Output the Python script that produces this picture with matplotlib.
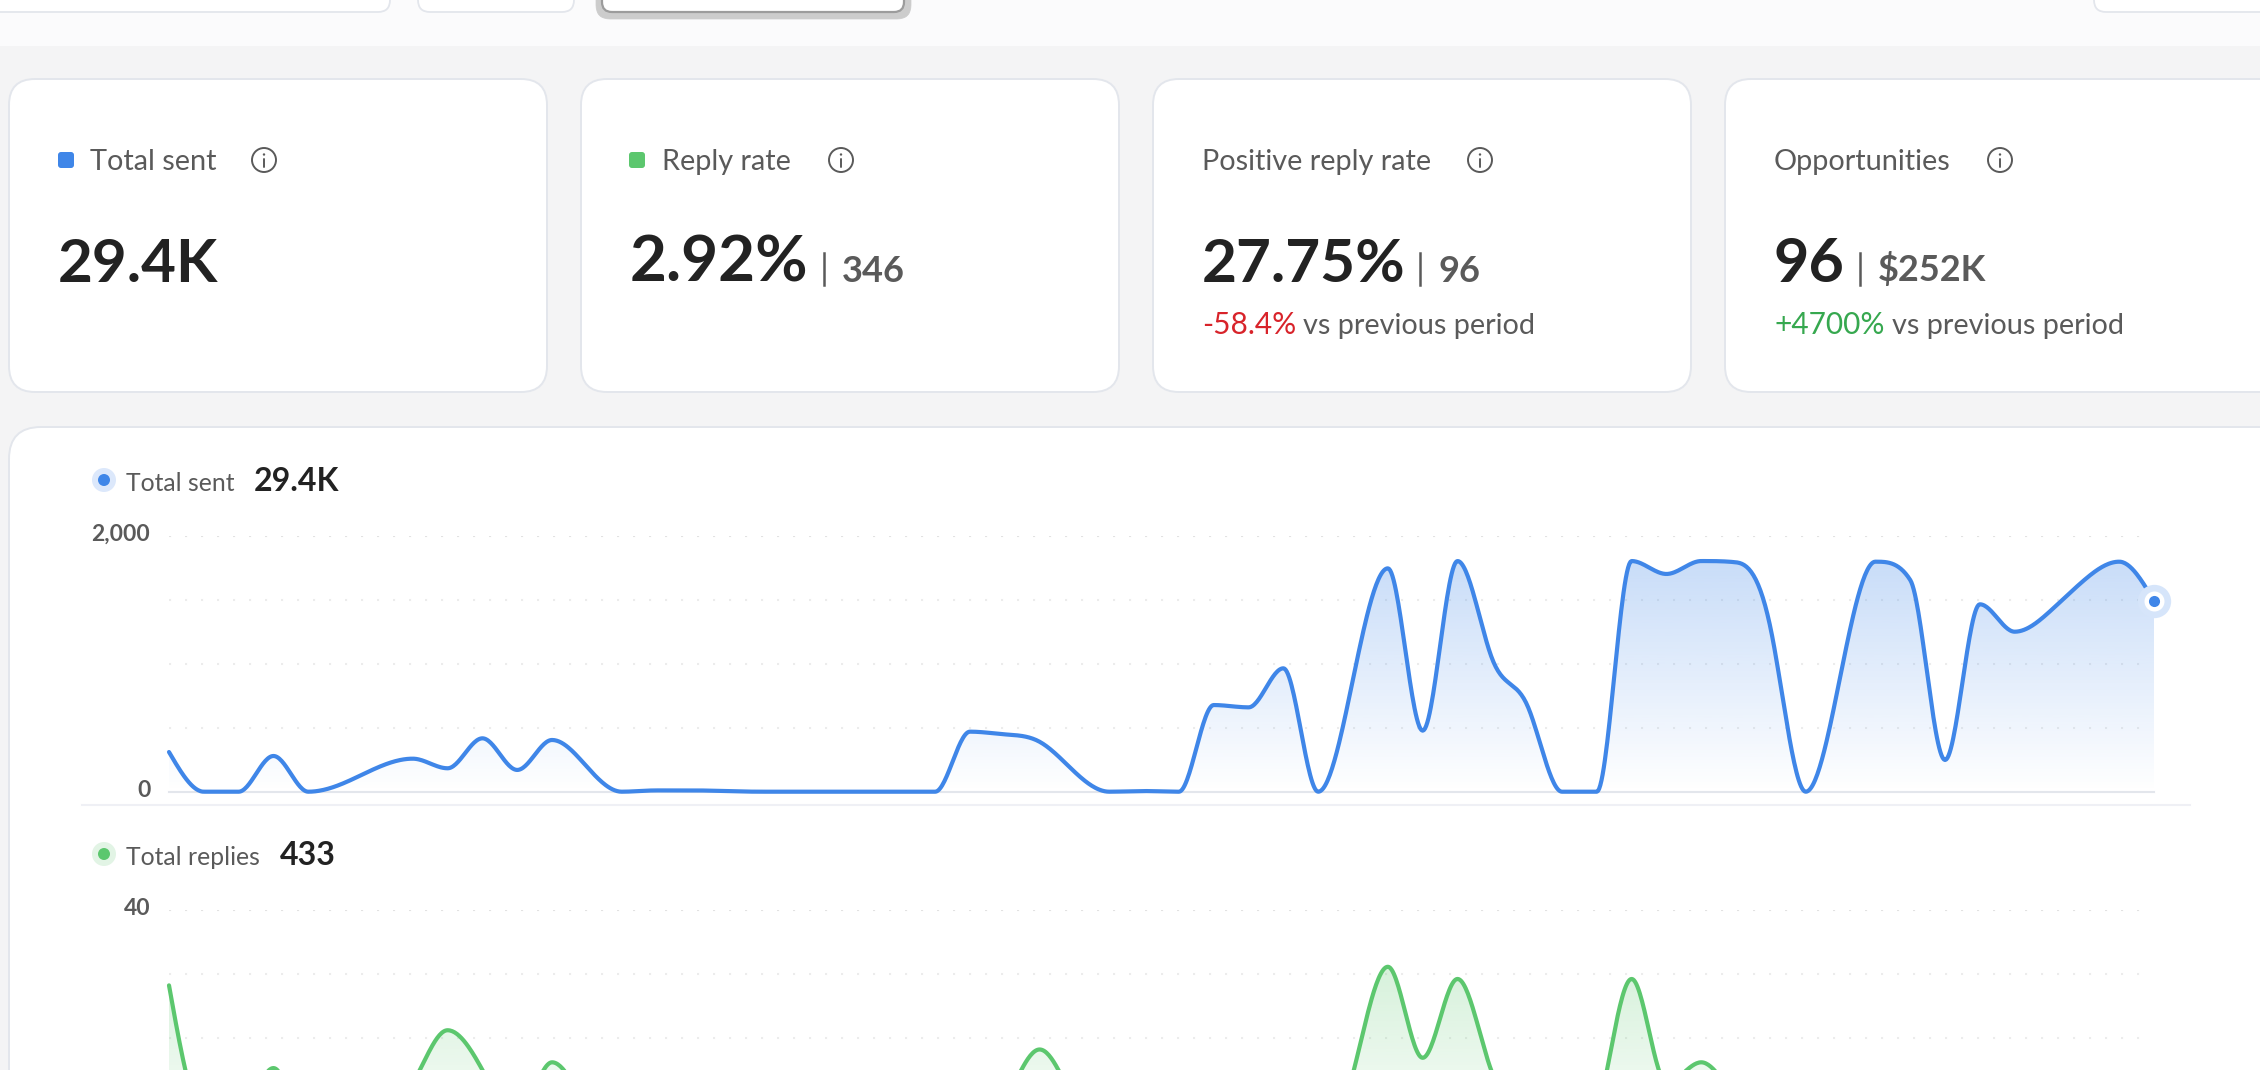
import numpy as np
import matplotlib
matplotlib.use("Agg")
import matplotlib.pyplot as plt
from matplotlib.patches import FancyBboxPatch, Circle, Rectangle
from matplotlib.transforms import ScaledTranslation

plt.rcParams['font.family'] = ['Lato', 'DejaVu Sans']

W, H = 2260, 1070

# daily values
total_sent = [310, 0, 0, 279, 0, 65, 190, 258, 183, 417, 170, 404, 195, 0, 10, 10, 5, 0, 0, 0,
              0, 0, 0, 469, 448, 390, 156, 0, 5, 0, 677, 659, 964, 0, 880, 1745, 477, 1802, 1035, 677,
              0, 0, 1802, 1701, 1802, 1792, 1263, 0, 912, 1797, 1654, 248, 1464, 1250, 1406, 1654, 1797, 1490]
total_replies = [28.2, 8, 8, 15.3, 5, 4, 8, 13, 21.2, 15, 8, 16.2, 9, 3, 2, 2, 1, 0, 0, 0,
                 0, 1, 3, 5, 10, 18.2, 10, 3, 1, 2, 6, 8, 11, 3, 14.5, 31.1, 16.9, 29.2, 14.5, 9,
                 2, 8, 29.2, 13, 16.2, 11, 8, 2, 6, 10, 9, 4, 8, 7, 6, 9, 10, 8]

sent_ticks = [0, 500, 1000, 1500, 2000]
sent_tick_labels = ['0', '', '', '', '2,000']
reply_ticks = [20, 30, 40]
reply_tick_labels = ['', '', '40']

BLUE = '#3f86e8'
GREEN = '#5cc76e'
DARK = '#222222'
GREY = '#5a5a5a'
BORDER = '#e3e6ec'
RED = '#d8232a'
UP = '#36a84f'


# smooth curve through the daily points, flat at every peak and valley,
# a clamped spline on each rising or falling run
def tangents(y):
    s = np.diff(y)
    n = len(y)
    m = np.zeros(n)
    breaks = [0] + [i for i in range(1, n - 1) if s[i - 1] * s[i] <= 0] + [n - 1]
    for a, b in zip(breaks[:-1], breaks[1:]):
        k = b - a - 1
        if k < 1:
            continue
        A = np.zeros((k, k))
        r = np.zeros(k)
        for j in range(k):
            A[j, j] = 4
            if j > 0:
                A[j, j - 1] = 1
            if j < k - 1:
                A[j, j + 1] = 1
            r[j] = 3 * (s[a + j] + s[a + j + 1])
        m[a + 1:b] = np.linalg.solve(A, r)
    for i in range(1, n - 1):
        lim = 3 * min(abs(s[i - 1]), abs(s[i]))
        m[i] = np.clip(m[i], -lim, lim)
    m[0] = (3 * s[0] - m[1]) / 2
    m[-1] = (3 * s[-1] - m[-2]) / 2
    return m


def smooth_curve(values, n=30):
    y = np.asarray(values, dtype=float)
    m = tangents(y)
    xs, ys = [], []
    for i in range(len(y) - 1):
        t = np.linspace(0, 1, n, endpoint=False)
        h00 = 2 * t**3 - 3 * t**2 + 1
        h10 = t**3 - 2 * t**2 + t
        h01 = -2 * t**3 + 3 * t**2
        h11 = t**3 - t**2
        xs.append(i + t)
        ys.append(h00 * y[i] + h10 * m[i] + h01 * y[i + 1] + h11 * m[i + 1])
    xs.append([len(y) - 1])
    ys.append([y[-1]])
    return np.concatenate(xs), np.concatenate(ys)


def px_axes(fig, x0, x1, y_top, y_bottom):
    return fig.add_axes([x0 / W, 1 - y_bottom / H, (x1 - x0) / W, (y_bottom - y_top) / H])


def card(ax, x0, y0, x1, y1, r=26, fc='white', ec=BORDER, lw=1.4, z=1):
    ax.add_patch(FancyBboxPatch((x0 + r, y0 + r), x1 - x0 - 2 * r, y1 - y0 - 2 * r,
                                boxstyle=f"round,pad={r},rounding_size={r}",
                                fc=fc, ec=ec, lw=lw, zorder=z, clip_on=True))


def info_icon(ax, cx, cy):
    ax.add_patch(Circle((cx, cy), 12, fc='none', ec=GREY, lw=1.4, zorder=3))
    ax.plot([cx, cx], [cy - 1, cy + 6.5], color=GREY, lw=1.4, zorder=3, solid_capstyle='round')
    ax.add_patch(Circle((cx, cy - 5.5), 1.2, fc=GREY, ec='none', zorder=3))


def draw_series(ax, values, color, gmax, galpha, lw):
    x, y = smooth_curve(values)
    poly = ax.fill_between(x, y, 0, color='none', lw=0)
    rgba = np.zeros((256, 1, 4))
    rgba[..., :3] = matplotlib.colors.to_rgb(color)
    rgba[:, 0, 3] = np.linspace(galpha, 0, 256)
    img = ax.imshow(rgba, extent=[0, len(values) - 1, 0, gmax], origin='upper', aspect='auto', zorder=1)
    img.set_clip_path(poly.get_paths()[0], transform=ax.transData)
    ax.plot(x, y, color=color, lw=lw, zorder=3, clip_on=False, solid_capstyle='round')
    return x, y


def style_chart(ax, ticks, labels, zero_line):
    ax.set_xlim(0, 57)
    ax.set_yticks(ticks, labels, fontsize=16.5, color=GREY, fontweight='bold')
    ax.tick_params(axis='y', length=0, pad=13.5)
    ax.set_xticks([])
    for lbl in ax.get_yticklabels():
        lbl.set_transform(lbl.get_transform() + ScaledTranslation(0, 3 / 100, fig.dpi_scale_trans))
    for sp in ax.spines.values():
        sp.set_visible(False)
    ax.patch.set_alpha(0)
    for t in ticks:
        if t == 0:
            continue
        col = '#e2e2e2' if t == ticks[-1] else '#ececec'
        ax.hlines(t, 0, 56.6, color=col, lw=1.5, linestyles=[(0, (1, 6.68))], zorder=0)
    if zero_line:
        ax.axhline(0, color=BORDER, lw=1.5, zorder=2, clip_on=False)


fig = plt.figure(figsize=(W / 100, H / 100), dpi=100, facecolor='#f4f4f5')

# page chrome in pixel coordinates
bg = fig.add_axes([0, 0, 1, 1])
bg.set_xlim(0, W)
bg.set_ylim(H, 0)
bg.axis('off')

bg.add_patch(Rectangle((0, 0), W, 46, fc='#fbfbfc', ec='none', zorder=0))
card(bg, -20, -40, 390, 12, r=12, lw=1.3)
card(bg, 418, -40, 574, 12, r=12, lw=1.3)
card(bg, 596, -40, 911, 19, r=14, fc='#cccccc', ec='#cccccc', lw=0.5)
card(bg, 602, -40, 904, 12, r=10, ec='#9c9c9c', lw=1.6, z=2)
card(bg, 2094, -40, 2300, 12, r=12, lw=1.3)

# four stat cards
card(bg, 9, 79, 547, 392)
card(bg, 581, 79, 1119, 392)
card(bg, 1153, 79, 1691, 392)
card(bg, 1725, 79, 2300, 392)

for sx, col in [(58, BLUE), (629, GREEN)]:
    bg.add_patch(FancyBboxPatch((sx + 3, 155), 10, 10, boxstyle="round,pad=3,rounding_size=3",
                                fc=col, ec='none', zorder=3))

for lx, txt in [(90, 'Total sent'), (662, 'Reply rate'), (1202, 'Positive reply rate'), (1774, 'Opportunities')]:
    bg.text(lx, 170, txt, fontsize=20.8, color=GREY, va='baseline', zorder=4)
for cx in [264, 841, 1480, 2000]:
    info_icon(bg, cx, 160)

for lx, txt, fs in [(58, '29.4K', 43.3), (630, '2.92%', 46), (1202, '27.75%', 43.5), (1774, '96', 44)]:
    bg.text(lx, 281.5, txt, fontsize=fs, color=DARK, fontweight='bold', va='baseline', zorder=4)
for lx, bar, txt in [(842, 824, '346'), (1438, 1420, '96'), (1878, 1860, '$252K')]:
    bg.text(lx, 281.5, txt, fontsize=26, color=GREY, fontweight='bold', va='baseline', zorder=4)
    bg.plot([bar, bar], [253, 285], color=GREY, lw=1.8, zorder=4)

bg.text(1202, 334, '-58.4%', fontsize=21.5, color=RED, va='baseline', zorder=4)
bg.text(1303, 334, 'vs previous period', fontsize=20.8, color=GREY, va='baseline', zorder=4)
bg.text(1774, 334, '+4700%', fontsize=21.5, color=UP, va='baseline', zorder=4)
bg.text(1892, 334, 'vs previous period', fontsize=20.8, color=GREY, va='baseline', zorder=4)

# big panel that holds the charts
card(bg, 9, 427, 2300, 1200, r=32)
bg.plot([82, 2190], [805, 805], color='#eff0f5', lw=1.5, zorder=2)

for cy, col, halo, label, lx, val, vx in [
        (480, BLUE, '#dce8fb', 'Total sent', 126, '29.4K', 254),
        (854, GREEN, '#e2f4e5', 'Total replies', 126, '433', 280)]:
    bg.add_patch(Circle((104, cy), 12, fc=halo, ec='none', zorder=3))
    bg.add_patch(Circle((104, cy), 6, fc=col, ec='none', zorder=4))
    bg.text(lx, cy + 11, label, fontsize=17.8, color=GREY, va='baseline', zorder=4)
    bg.text(vx, cy + 11, val, fontsize=23, color=DARK, fontweight='bold', va='baseline', zorder=4)

# total sent chart
ax1 = px_axes(fig, 169, 2154, 535.7, 791.7)
draw_series(ax1, total_sent, BLUE, 1900, 0.30, 3.0)
ax1.set_ylim(0, 2000)
style_chart(ax1, sent_ticks, sent_tick_labels, True)
ax1.plot([57], [total_sent[-1]], 'o', ms=24, mfc='#d6e5fa', mec='none', zorder=4, clip_on=False)
ax1.plot([57], [total_sent[-1]], 'o', ms=14.4, mfc='white', mec='none', zorder=5, clip_on=False)
ax1.plot([57], [total_sent[-1]], 'o', ms=8, mfc=BLUE, mec='none', zorder=6, clip_on=False)

# total replies chart, cut off by the bottom of the screenshot
ax2 = px_axes(fig, 169, 2154, 909.7, 1070)
draw_series(ax2, total_replies, GREEN, 34, 0.27, 3.0)
ax2.set_ylim(15, 40)
style_chart(ax2, reply_ticks, reply_tick_labels, False)

fig.savefig('out.png', dpi=100, facecolor=fig.get_facecolor())
